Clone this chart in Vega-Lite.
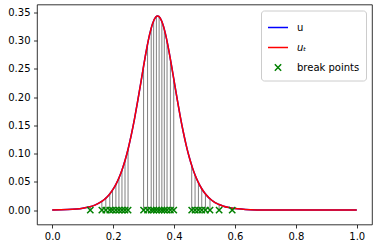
{
  "$schema": "https://vega.github.io/schema/vega-lite/v6.json",
  "autosize": "none",
  "width": 335,
  "height": 220,
  "padding": {"left": 37, "top": 4.5, "right": 6, "bottom": 23.5},
  "background": "white",
  "datasets": {
    "curve": [
      {"x": 0.0, "u": 0.0003}, {"x": 0.05, "u": 0.001}, {"x": 0.1, "u": 0.0034}, {"x": 0.12, "u": 0.0055},
      {"x": 0.14, "u": 0.0089}, {"x": 0.15, "u": 0.0114}, {"x": 0.16, "u": 0.0144}, {"x": 0.17, "u": 0.0183},
      {"x": 0.18, "u": 0.0232}, {"x": 0.19, "u": 0.0293}, {"x": 0.2, "u": 0.037}, {"x": 0.21, "u": 0.0465},
      {"x": 0.22, "u": 0.0582}, {"x": 0.23, "u": 0.0725}, {"x": 0.24, "u": 0.0897}, {"x": 0.25, "u": 0.1101},
      {"x": 0.26, "u": 0.134}, {"x": 0.27, "u": 0.1611}, {"x": 0.28, "u": 0.1911}, {"x": 0.29, "u": 0.2229},
      {"x": 0.3, "u": 0.255}, {"x": 0.31, "u": 0.2854}, {"x": 0.32, "u": 0.3116}, {"x": 0.33, "u": 0.3312},
      {"x": 0.34, "u": 0.3422}, {"x": 0.346, "u": 0.344}, {"x": 0.35, "u": 0.3432}, {"x": 0.36, "u": 0.3342},
      {"x": 0.37, "u": 0.3161}, {"x": 0.38, "u": 0.291}, {"x": 0.39, "u": 0.2613}, {"x": 0.4, "u": 0.2293},
      {"x": 0.41, "u": 0.1973}, {"x": 0.42, "u": 0.1669}, {"x": 0.43, "u": 0.1392}, {"x": 0.44, "u": 0.1147},
      {"x": 0.45, "u": 0.0935}, {"x": 0.46, "u": 0.0757}, {"x": 0.47, "u": 0.0608}, {"x": 0.48, "u": 0.0486},
      {"x": 0.49, "u": 0.0387}, {"x": 0.5, "u": 0.0307}, {"x": 0.51, "u": 0.0243}, {"x": 0.52, "u": 0.0192},
      {"x": 0.53, "u": 0.0151}, {"x": 0.54, "u": 0.0119}, {"x": 0.55, "u": 0.0094}, {"x": 0.56, "u": 0.0074},
      {"x": 0.58, "u": 0.0045}, {"x": 0.6, "u": 0.0028}, {"x": 0.65, "u": 0.0008}, {"x": 0.7, "u": 0.0002},
      {"x": 0.8, "u": 0.0}, {"x": 0.9, "u": 0.0}, {"x": 1.0, "u": 0.0}
    ],
    "breaks": [
      {"x": 0.125, "u": 0.0062, "b": 0}, {"x": 0.163, "u": 0.0155, "b": 0}, {"x": 0.176, "u": 0.0211, "b": 0}, {"x": 0.189, "u": 0.0286, "b": 0},
      {"x": 0.198, "u": 0.0353, "b": 0}, {"x": 0.209, "u": 0.0454, "b": 0}, {"x": 0.219, "u": 0.0569, "b": 0}, {"x": 0.229, "u": 0.0709, "b": 0},
      {"x": 0.239, "u": 0.0878, "b": 0}, {"x": 0.249, "u": 0.108, "b": 0},
      {"x": 0.3, "u": 0.255, "b": 0}, {"x": 0.313, "u": 0.2938, "b": 0}, {"x": 0.325, "u": 0.3224, "b": 0}, {"x": 0.333, "u": 0.3355, "b": 0},
      {"x": 0.342, "u": 0.3432, "b": 0}, {"x": 0.351, "u": 0.3427, "b": 0}, {"x": 0.36, "u": 0.3342, "b": 0}, {"x": 0.368, "u": 0.3204, "b": 0},
      {"x": 0.377, "u": 0.2992, "b": 0}, {"x": 0.388, "u": 0.2675, "b": 0}, {"x": 0.399, "u": 0.2325, "b": 0},
      {"x": 0.458, "u": 0.079, "b": 0}, {"x": 0.469, "u": 0.0622, "b": 0}, {"x": 0.48, "u": 0.0486, "b": 0}, {"x": 0.491, "u": 0.0378, "b": 0},
      {"x": 0.503, "u": 0.0286, "b": 0}, {"x": 0.518, "u": 0.0201, "b": 0}, {"x": 0.548, "u": 0.0098, "b": 0}, {"x": 0.591, "u": 0.0035, "b": 0}
    ]
  },
  "layer": [
    {
      "data": {"name": "breaks"},
      "mark": {"type": "rule", "color": "#808080", "strokeWidth": 1},
      "encoding": {
        "x": {"field": "x", "type": "quantitative", "scale": {"domain": [-0.05, 1.05], "nice": false, "zero": false},
          "axis": {"values": [0, 0.2, 0.4, 0.6, 0.8, 1.0], "format": ".1f", "title": null}},
        "y": {"field": "b", "type": "quantitative", "scale": {"domain": [-0.0255, 0.3642], "nice": false, "zero": false},
          "axis": {"values": [0, 0.05, 0.1, 0.15, 0.2, 0.25, 0.3, 0.35], "format": ".2f", "title": null, "labelOverlap": false}},
        "y2": {"field": "u"}
      }
    },
    {
      "data": {"name": "curve"},
      "mark": {"type": "line", "strokeWidth": 1.5, "interpolate": "monotone"},
      "encoding": {
        "x": {"field": "x", "type": "quantitative", "scale": {"domain": [-0.05, 1.05], "nice": false, "zero": false},
          "axis": {"values": [0, 0.2, 0.4, 0.6, 0.8, 1.0], "format": ".1f", "title": null}},
        "y": {"field": "u", "type": "quantitative", "scale": {"domain": [-0.0255, 0.3642], "nice": false, "zero": false},
          "axis": {"values": [0, 0.05, 0.1, 0.15, 0.2, 0.25, 0.3, 0.35], "format": ".2f", "title": null, "labelOverlap": false}},
        "color": {"datum": "u", "type": "nominal",
          "scale": {"domain": ["u", "u_T", "break points"], "range": ["#0000ff", "#ff0000", "#008000"]},
          "legend": {
            "labelExpr": "datum.value == 'u_T' ? 'uₜ' : datum.label",
            "encode": {
              "symbols": {"update": {
                "shape": {"signal": "datum.value == 'break points' ? 'M-1,-1L1,1M-1,1L1,-1' : 'stroke'"},
                "size": {"signal": "datum.value == 'break points' ? 40 : 400"},
                "strokeWidth": {"value": 1.5}
              }},
              "labels": {"update": {
                "fontStyle": {"signal": "datum.value == 'u_T' ? 'italic' : 'normal'"}
              }}
            }
          }}}
    },
    {
      "data": {"name": "curve"},
      "mark": {"type": "line", "strokeWidth": 1.5, "interpolate": "monotone"},
      "encoding": {
        "x": {"field": "x", "type": "quantitative", "scale": {"domain": [-0.05, 1.05], "nice": false, "zero": false},
          "axis": {"values": [0, 0.2, 0.4, 0.6, 0.8, 1.0], "format": ".1f", "title": null}},
        "y": {"field": "u", "type": "quantitative", "scale": {"domain": [-0.0255, 0.3642], "nice": false, "zero": false},
          "axis": {"values": [0, 0.05, 0.1, 0.15, 0.2, 0.25, 0.3, 0.35], "format": ".2f", "title": null, "labelOverlap": false}},
        "color": {"datum": "u_T", "type": "nominal"}}
    },
    {
      "data": {"name": "breaks"},
      "mark": {"type": "point", "shape": "M-1,-1L1,1M-1,1L1,-1", "filled": false, "size": 40, "strokeWidth": 1.5, "opacity": 1},
      "encoding": {
        "x": {"field": "x", "type": "quantitative", "scale": {"domain": [-0.05, 1.05], "nice": false, "zero": false},
          "axis": {"values": [0, 0.2, 0.4, 0.6, 0.8, 1.0], "format": ".1f", "title": null}},
        "y": {"field": "b", "type": "quantitative", "scale": {"domain": [-0.0255, 0.3642], "nice": false, "zero": false},
          "axis": {"values": [0, 0.05, 0.1, 0.15, 0.2, 0.25, 0.3, 0.35], "format": ".2f", "title": null, "labelOverlap": false}},
        "color": {"datum": "break points", "type": "nominal"}}
    }
  ],
  "config": {
    "font": "DejaVu Sans",
    "view": {"stroke": "black", "strokeWidth": 0.8},
    "axis": {"domain": false, "grid": false, "ticks": true, "tickColor": "black", "tickSize": 3.5, "tickWidth": 0.8,
      "labelFontSize": 10, "labelColor": "#000000", "labelFont": "DejaVu Sans", "labelPadding": 3.5},
    "legend": {
      "orient": "top-right", "offset": 6, "title": null,
      "strokeColor": "#cccccc", "fillColor": "white", "cornerRadius": 3, "padding": 6,
      "labelFontSize": 10, "labelFont": "DejaVu Sans", "labelColor": "#000000",
      "symbolType": "stroke", "symbolSize": 400, "symbolStrokeWidth": 1.5, "rowPadding": 4, "labelOffset": 8
    }
  }
}
